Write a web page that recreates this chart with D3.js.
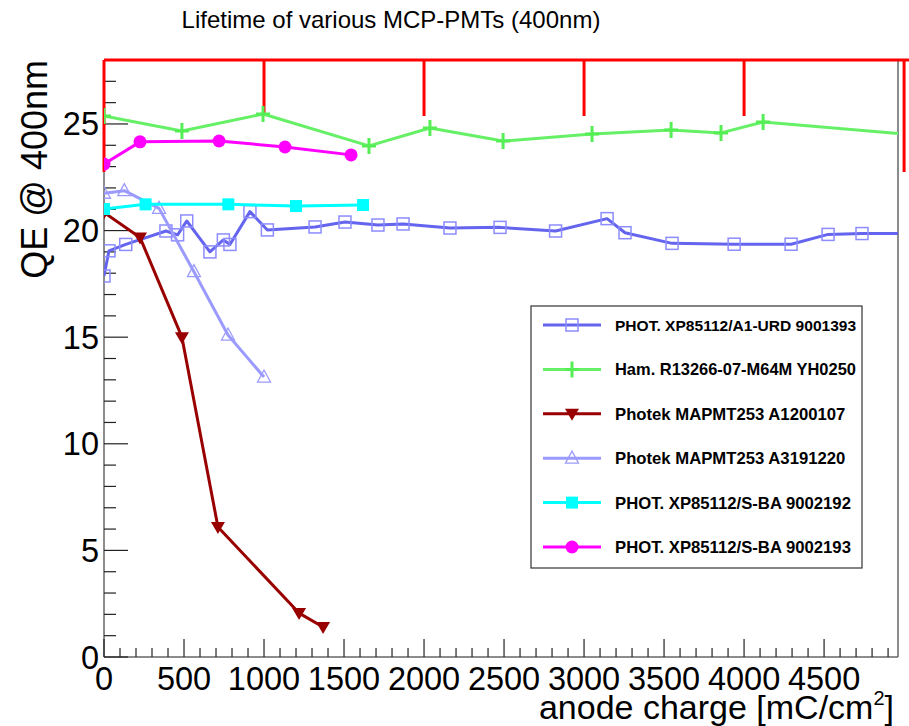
<!DOCTYPE html>
<html>
<head>
<meta charset="utf-8">
<script src="https://cdn.jsdelivr.net/npm/d3@7"></script>
<style>
  html, body { margin: 0; padding: 0; background: #fff; }
  text { font-family: "Liberation Sans", Arial, Helvetica, sans-serif; }
</style>
</head>
<body>
<svg id="chart" width="909" height="726"></svg>
<script>
// ---------- data ----------
const title = "Lifetime of various MCP-PMTs (400nm)";
const xTitle = "anode charge [mC/cm";
const yTitle = "QE @ 400nm";
const xTickValues = [0, 500, 1000, 1500, 2000, 2500, 3000, 3500, 4000, 4500];
const yTickValues = [0, 5, 10, 15, 20, 25];
const redAxisTicks = [1000, 2000, 3000, 4000];
const redAxisEnds = [0, 5000];

const urd_x = [0, 31, 136, 387, 460, 517, 662, 746, 787, 912, 1021, 1319, 1506, 1712, 1869, 2162, 2475, 2822, 3144, 3256, 3550, 3938, 4294, 4525, 4737, 5200];
const urd_y = [17.87, 19.05, 19.35, 19.98, 19.8, 20.45, 19.0, 19.56, 19.35, 20.89, 20.03, 20.17, 20.4, 20.26, 20.31, 20.12, 20.15, 19.98, 20.56, 19.9, 19.4, 19.36, 19.36, 19.82, 19.86, 19.86];

const ham_x = [0, 487, 994, 1656, 2037, 2494, 3050, 3544, 3856, 4119, 5200];
const ham_y = [25.37, 24.67, 25.47, 23.97, 24.81, 24.2, 24.53, 24.72, 24.58, 25.09, 24.4];

const pA12_x = [0, 225, 487, 712, 1219, 1369];
const pA12_y = [20.85, 19.68, 15.0, 6.1, 2.06, 1.41];

const pA31_x = [0, 127, 344, 562, 775, 1000];
const pA31_y = [21.75, 21.87, 21.04, 18.07, 15.1, 13.13];

const sba92_x = [0, 260, 777, 1200, 1619];
const sba92_y = [21.01, 21.23, 21.23, 21.15, 21.2];

const sba93_x = [0, 225, 719, 1131, 1544];
const sba93_y = [23.12, 24.16, 24.2, 23.92, 23.55];

const seriesNames = [
  "PHOT. XP85112/A1-URD 9001393",
  "Ham. R13266-07-M64M YH0250",
  "Photek MAPMT253 A1200107",
  "Photek MAPMT253 A3191220",
  "PHOT. XP85112/S-BA 9002192",
  "PHOT. XP85112/S-BA 9002193"
];

// ---------- setup ----------
const svg = d3.select("#chart");
const L = 104, R = 898, T = 60, B = 657;
const x = d3.scaleLinear().domain([0, 4962]).range([L, R]);
const y = d3.scaleLinear().domain([0, 28]).range([B, T]);

const zip = (xs, ys) => xs.map((v, i) => [v, ys[i]]);
const series = [
  { name: seriesNames[0], pts: zip(urd_x, urd_y), line: "#6464ee", mcol: "#8c8cff", marker: "opensquare" },
  { name: seriesNames[1], pts: zip(ham_x, ham_y), line: "#66f066", mcol: "#55ee55", marker: "plus" },
  { name: seriesNames[2], pts: zip(pA12_x, pA12_y), line: "#990000", mcol: "#990000", marker: "tridown" },
  { name: seriesNames[3], pts: zip(pA31_x, pA31_y), line: "#9a9aff", mcol: "#9a9aff", marker: "opentri" },
  { name: seriesNames[4], pts: zip(sba92_x, sba92_y), line: "#00ffff", mcol: "#00ffff", marker: "square" },
  { name: seriesNames[5], pts: zip(sba93_x, sba93_y), line: "#ff00ff", mcol: "#ff00ff", marker: "circle" }
];

svg.append("defs").append("clipPath").attr("id", "plotclip")
  .append("rect").attr("x", L).attr("y", T - 10).attr("width", R - L).attr("height", B - T + 10);

// title
svg.append("text").attr("x", 391).attr("y", 28).attr("text-anchor", "middle")
  .attr("font-size", 24).attr("fill", "#000").text(title);

// frame
const frame = svg.append("g").attr("stroke", "#666").attr("stroke-width", 1.5).attr("fill", "none");
frame.append("line").attr("x1", L).attr("x2", L).attr("y1", T).attr("y2", B);
frame.append("line").attr("x1", R).attr("x2", R).attr("y1", T).attr("y2", B);
frame.append("line").attr("x1", L).attr("x2", R).attr("y1", B).attr("y2", B);

// ticks (inward)
const axG = svg.append("g").attr("stroke", "#222").attr("stroke-width", 1.2);
d3.range(0, 4962, 100).forEach(v => {
  const major = v % 500 === 0;
  axG.append("line").attr("x1", x(v)).attr("x2", x(v)).attr("y1", B).attr("y2", B - (major ? 18 : 9));
});
d3.range(0, 28.01, 1).forEach(v => {
  const major = v % 5 === 0;
  axG.append("line").attr("x1", L).attr("x2", L + (major ? 24 : 12)).attr("y1", y(v)).attr("y2", y(v));
});

// tick labels
svg.append("g").selectAll("text").data(xTickValues).join("text")
  .attr("x", d => x(d)).attr("y", 690).attr("text-anchor", "middle")
  .attr("font-size", 32.5).text(d => d);
svg.append("g").selectAll("text").data(yTickValues).join("text")
  .attr("x", 99).attr("y", d => y(d) + 11.5).attr("text-anchor", "end")
  .attr("font-size", 32.5).text(d => d);

// axis titles
const xt = svg.append("text").attr("x", 894).attr("y", 719).attr("text-anchor", "end").attr("font-size", 34);
xt.append("tspan").text(xTitle);
xt.append("tspan").attr("font-size", 20).attr("dy", -14).text("2");
xt.append("tspan").attr("dy", 14).text("]");

svg.append("text").attr("transform", `translate(47,${T}) rotate(-90)`)
  .attr("text-anchor", "end").attr("font-size", 36).text(yTitle);

// red axis
const red = svg.append("g").attr("stroke", "#ff0000").attr("stroke-width", 3).attr("fill", "none");
red.append("line").attr("x1", x(0)).attr("x2", 909).attr("y1", T).attr("y2", T);
redAxisEnds.forEach(v => red.append("line").attr("x1", x(v)).attr("x2", x(v)).attr("y1", T).attr("y2", T + 112));
redAxisTicks.forEach(v => red.append("line").attr("x1", x(v)).attr("x2", x(v)).attr("y1", T).attr("y2", T + 56));

// markers
function drawMarker(g, type, cx, cy, col) {
  if (type === "opensquare") {
    g.append("rect").attr("x", cx - 6).attr("y", cy - 6).attr("width", 12).attr("height", 12)
      .attr("fill", "none").attr("stroke", col).attr("stroke-width", 1.5);
  } else if (type === "square") {
    g.append("rect").attr("x", cx - 6).attr("y", cy - 6).attr("width", 12).attr("height", 12).attr("fill", col);
  } else if (type === "circle") {
    g.append("circle").attr("cx", cx).attr("cy", cy).attr("r", 6.5).attr("fill", col);
  } else if (type === "plus") {
    g.append("path").attr("d", `M${cx - 7},${cy}H${cx + 7}M${cx},${cy - 8}V${cy + 8}`)
      .attr("stroke", col).attr("stroke-width", 3).attr("fill", "none");
  } else if (type === "tridown") {
    g.append("path").attr("d", `M${cx - 7},${cy - 5}L${cx + 7},${cy - 5}L${cx},${cy + 7}Z`).attr("fill", col);
  } else if (type === "opentri") {
    g.append("path").attr("d", `M${cx - 6.5},${cy + 5}L${cx + 6.5},${cy + 5}L${cx},${cy - 7}Z`)
      .attr("fill", "none").attr("stroke", col).attr("stroke-width", 1.3);
  }
}

const line = d3.line().x(d => x(d[0])).y(d => y(d[1]));
const plot = svg.append("g").attr("clip-path", "url(#plotclip)");
series.forEach(s => {
  const g = plot.append("g");
  g.append("path").datum(s.pts).attr("d", line).attr("fill", "none")
    .attr("stroke", s.line).attr("stroke-width", 3).attr("stroke-linejoin", "round");
  s.pts.forEach(p => drawMarker(g, s.marker, x(p[0]), y(p[1]), s.mcol));
});

// legend (entries shrink to fit the box, as ROOT's TLegend does)
const lg = svg.append("g");
const lgX = 531, lgY = 306, lgW = 331, lgH = 262;
lg.append("rect").attr("x", lgX).attr("y", lgY).attr("width", lgW).attr("height", lgH)
  .attr("fill", "#fff").attr("stroke", "#333").attr("stroke-width", 1.2);
const maxTextW = lgX + lgW - 6 - 615;
series.forEach((s, i) => {
  const cy = 325 + i * 44.4;
  lg.append("line").attr("x1", 543).attr("x2", 601).attr("y1", cy).attr("y2", cy)
    .attr("stroke", s.line).attr("stroke-width", 3);
  drawMarker(lg, s.marker, 572, cy, s.mcol);
  const t = lg.append("text").attr("x", 615).attr("y", cy + 6).attr("font-size", 16.7)
    .attr("font-weight", "bold").attr("fill", "#000").text(s.name);
  const w = t.node().getComputedTextLength();
  if (w > maxTextW) t.attr("font-size", 16.7 * maxTextW / w);
});
</script>
</body>
</html>
